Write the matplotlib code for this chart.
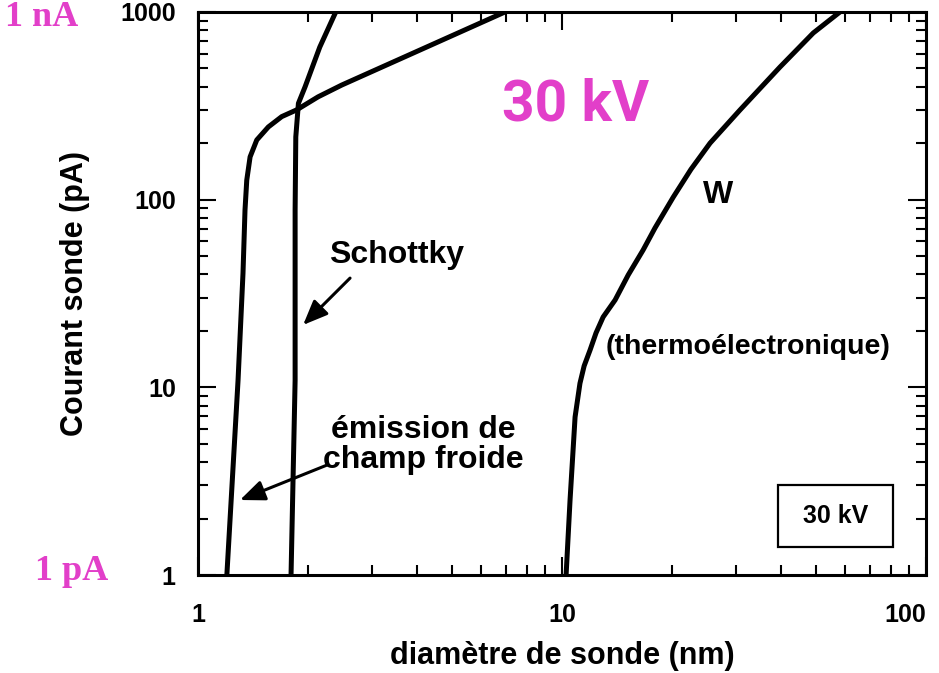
import numpy as np
import matplotlib
matplotlib.use('Agg')
import matplotlib.pyplot as plt
from matplotlib.patches import Rectangle
from matplotlib.ticker import LogLocator, FixedFormatter, FixedLocator, NullFormatter

# diamètre de sonde (nm) / courant sonde (pA)
cfe_d = [1.20, 1.288, 1.329, 1.346, 1.361, 1.390, 1.450, 1.560, 1.698, 1.867, 2.137, 2.482, 6.97]
cfe_i = [1.0, 10.9, 40.6, 88.1, 127, 169, 208, 244, 277, 301, 353, 408, 1000]

schottky_d = [1.801, 1.848, 1.848, 1.856, 1.887, 1.968, 2.16, 2.39]
schottky_i = [1.0, 10.9, 88.1, 216, 326, 399, 650, 1000]

w_d = [10.26, 10.52, 10.86, 11.2, 11.5, 11.94, 12.4, 12.97, 13.99, 15.2, 16.7, 18.0, 20.2,
       22.6, 25.5, 30.8, 39.7, 49.0, 58.0]
w_i = [1.0, 2.51, 6.95, 10.5, 13.0, 15.8, 19.5, 23.7, 29.2, 39.7, 53.9, 70.6, 103,
       145, 200, 300, 509, 773, 1000]

xticks = [1, 10, 100]
xtick_labels = ['1', '10', '100']
yticks = [1, 10, 100, 1000]
ytick_labels = ['1', '10', '100', '1000']

magenta = '#e23fc9'
sans = 'Liberation Sans'

fig = plt.figure(figsize=(9.39, 6.73), dpi=100)
ax = fig.add_axes([0.2109, 0.1456, 0.7753, 0.8366])

ax.plot(cfe_d, cfe_i, color='black', lw=3.6, solid_capstyle='butt', solid_joinstyle='round')
ax.plot(schottky_d, schottky_i, color='black', lw=3.6, solid_capstyle='butt',
        solid_joinstyle='round')
ax.plot(w_d, w_i, color='black', lw=3.6, solid_capstyle='butt', solid_joinstyle='round')

ax.set_xscale('log')
ax.set_yscale('log')
ax.set_xlim(1, 100)
ax.set_ylim(1, 1000)

ax.xaxis.set_major_locator(FixedLocator(xticks))
ax.xaxis.set_major_formatter(FixedFormatter(xtick_labels))
ax.yaxis.set_major_locator(FixedLocator(yticks))
ax.yaxis.set_major_formatter(FixedFormatter(ytick_labels))
ax.xaxis.set_minor_locator(LogLocator(base=10, subs=np.arange(2, 10)))
ax.yaxis.set_minor_locator(LogLocator(base=10, subs=np.arange(2, 10)))
ax.xaxis.set_minor_formatter(NullFormatter())
ax.yaxis.set_minor_formatter(NullFormatter())

for s in ax.spines.values():
    s.set_linewidth(2.2)
ax.tick_params(which='both', direction='in', top=True, right=True, width=1.5)
ax.tick_params(which='major', length=13)
ax.tick_params(which='minor', length=7.5)
ax.tick_params(axis='x', which='major', pad=20, labelsize=18)
ax.tick_params(axis='y', which='major', pad=16, labelsize=18)
for lab in ax.get_xticklabels() + ax.get_yticklabels():
    lab.set_fontfamily(sans)
    lab.set_fontweight('bold')
# keep the last x label inside the picture
ax.get_xticklabels()[-1].set_horizontalalignment('right')
ax.get_xticklabels()[-1].set_x(100)

ax.set_xlabel('diamètre de sonde (nm)', fontsize=22, fontweight='bold',
              fontfamily=sans, labelpad=10)
ax.set_ylabel('Courant sonde (pA)', fontsize=22, fontweight='bold',
              fontfamily=sans, labelpad=22)

ax.text(0.518, 0.835, '30 kV', transform=ax.transAxes, ha='center', va='center',
        fontsize=41, fontweight='bold', fontfamily='Roboto', color=magenta)
ax.text(0.715, 0.675, 'W', transform=ax.transAxes, ha='center', va='center',
        fontsize=23, fontweight='bold', fontfamily=sans)
ax.text(0.273, 0.568, 'Schottky', transform=ax.transAxes, ha='center', va='center',
        fontsize=23, fontweight='bold', fontfamily=sans)
ax.text(0.755, 0.405, '(thermoélectronique)', transform=ax.transAxes, ha='center',
        va='center', fontsize=20.5, fontweight='bold', fontfamily=sans)
ax.text(0.31, 0.231, 'émission de\nchamp froide', transform=ax.transAxes, ha='center',
        va='center', fontsize=23, fontweight='bold', fontfamily=sans, linespacing=1.0)

ax.annotate('', xy=(1.944, 21.5), xytext=(2.616, 38.2),
            arrowprops=dict(arrowstyle='-|>,head_length=0.6,head_width=0.25', color='black',
                            lw=2.2, mutation_scale=25, shrinkA=0, shrinkB=0))
ax.annotate('', xy=(1.304, 2.51), xytext=(2.262, 3.855),
            arrowprops=dict(arrowstyle='-|>,head_length=0.6,head_width=0.25', color='black',
                            lw=2.2, mutation_scale=25, shrinkA=0, shrinkB=0))

ax.add_patch(Rectangle((0.797, 0.050), 0.158, 0.110, transform=ax.transAxes,
                       fill=False, lw=1.6, edgecolor='black'))
ax.text(0.876, 0.105, '30 kV', transform=ax.transAxes, ha='center', va='center',
        fontsize=18, fontweight='bold', fontfamily=sans)

fig.text(42 / 939, 1 - 17 / 673, '1 nA', ha='center', va='center', fontsize=26,
         fontweight='bold', fontfamily='Liberation Serif', color=magenta)
fig.text(72 / 939, 1 - 572 / 673, '1 pA', ha='center', va='center', fontsize=26,
         fontweight='bold', fontfamily='Liberation Serif', color=magenta)

fig.savefig('out.png', dpi=100)
